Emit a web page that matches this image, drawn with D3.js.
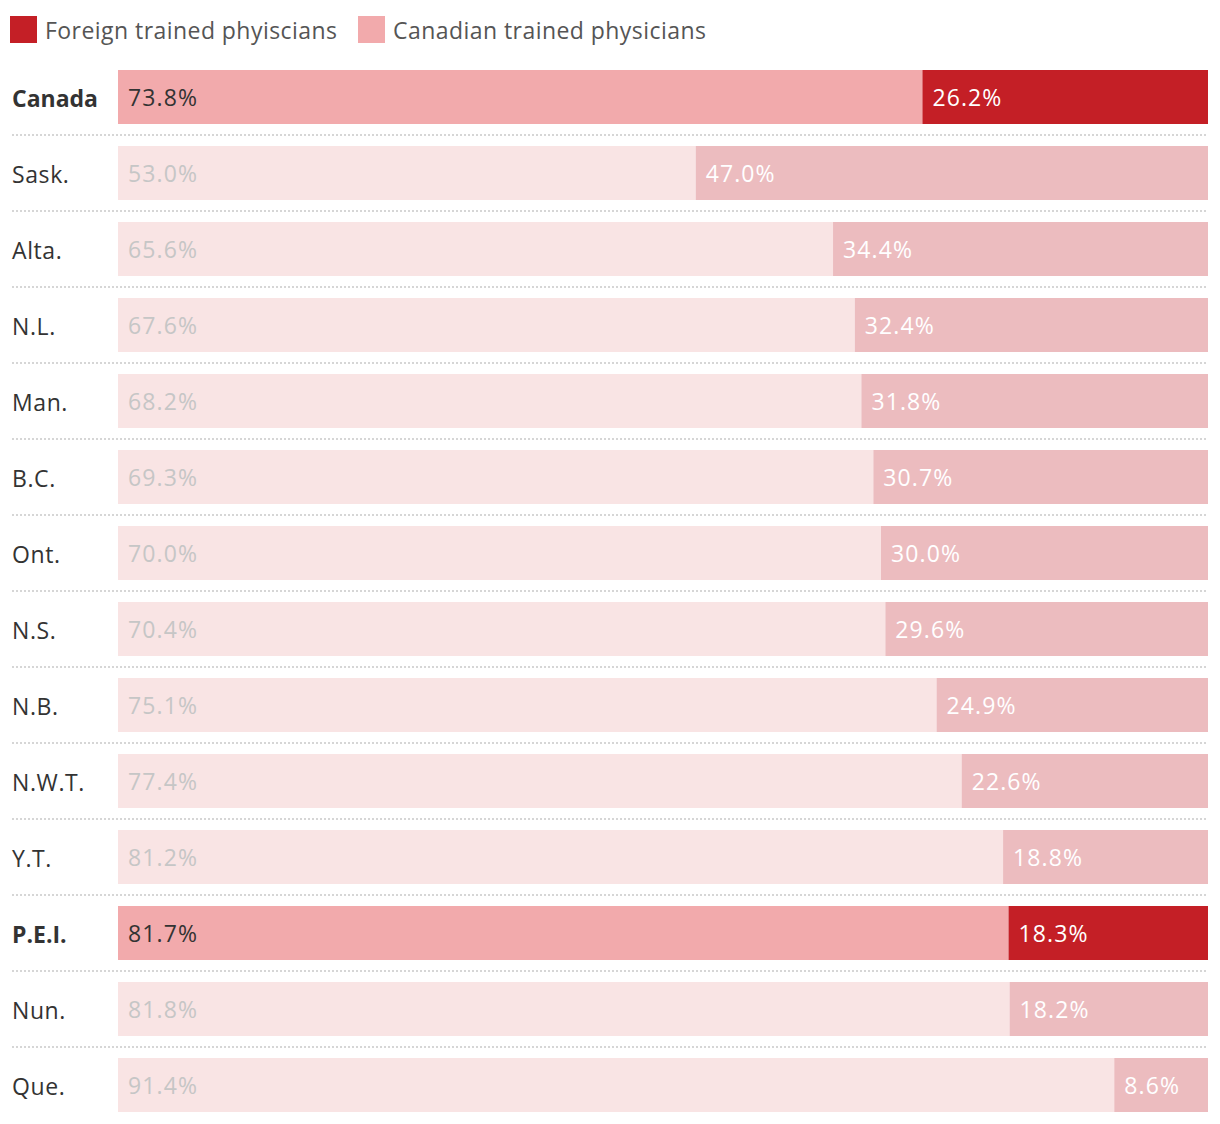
<!DOCTYPE html>
<html><head><meta charset="utf-8">
<script src="https://cdn.jsdelivr.net/npm/d3@7"></script>
<style>body{margin:0;background:#fff;font-family:"Open Sans",sans-serif;}</style>
</head><body><svg id="c" width="1220" height="1124"></svg>
<script>
const regions = ["Canada","Sask.","Alta.","N.L.","Man.","B.C.","Ont.","N.S.","N.B.","N.W.T.","Y.T.","P.E.I.","Nun.","Que."];
const canadianTrained = [73.8,53.0,65.6,67.6,68.2,69.3,70.0,70.4,75.1,77.4,81.2,81.7,81.8,91.4];
const foreignTrained = [26.2,47.0,34.4,32.4,31.8,30.7,30.0,29.6,24.9,22.6,18.8,18.3,18.2,8.6];
const highlighted = ["Canada","P.E.I."];
const legendLabels = ["Foreign trained phyiscians","Canadian trained physicians"];

const FS = 23;
const svg = d3.select("#c");
const x = d3.scaleLinear().domain([0,100]).range([118,1208]);
const y = d3.scaleBand().domain(regions).range([70,1112]).paddingInner(22/76).paddingOuter(0).align(0);
const bw = y.bandwidth();

const col = { fHi:"#c41f26", cHi:"#f2aaac", fLo:"#ecbcbf", cLo:"#f9e4e4" };

// legend
const legCols = [col.fHi, col.cHi];
const legX = [10, 358];
legendLabels.forEach((t,i)=>{
  svg.append("rect").attr("x",legX[i]).attr("y",16).attr("width",27).attr("height",27).attr("fill",legCols[i]);
  svg.append("text").attr("x",legX[i]+35).attr("y",30).attr("dominant-baseline","central")
    .attr("font-size",FS).attr("letter-spacing",0.45).attr("fill","#555").text(t);
});

const data = regions.map((r,i)=>({r, c:canadianTrained[i], f:foreignTrained[i], hi:highlighted.includes(r)}));

const g = svg.append("g");
data.forEach((d,i)=>{
  const y0 = y(d.r);
  g.append("rect").attr("x",x(0)).attr("y",y0).attr("width",x(d.c)-x(0)).attr("height",bw)
    .attr("fill", d.hi?col.cHi:col.cLo);
  g.append("rect").attr("x",x(d.c)).attr("y",y0).attr("width",x(100)-x(d.c)).attr("height",bw)
    .attr("fill", d.hi?col.fHi:col.fLo);
  g.append("text").attr("x",x(0)+10).attr("y",y0+bw/2).attr("dominant-baseline","central")
    .attr("font-size",FS).attr("letter-spacing",1.1).attr("fill", d.hi?"#333":"#c6c6c6").text(d.c.toFixed(1)+"%");
  g.append("text").attr("x",x(d.c)+10).attr("y",y0+bw/2).attr("dominant-baseline","central")
    .attr("font-size",FS).attr("letter-spacing",1.1).attr("fill","#fff").text(d.f.toFixed(1)+"%");
  g.append("text").attr("x",12).attr("y",y0+bw/2+1).attr("dominant-baseline","central")
    .attr("font-size",FS).attr("letter-spacing",d.hi?0:0.6).attr("font-weight",d.hi?"bold":"normal").attr("fill","#333").text(d.r);
  if(i<regions.length-1){
    const ly = y0+bw+11;
    g.append("line").attr("x1",12).attr("x2",1208).attr("y1",ly).attr("y2",ly)
      .attr("stroke","#d6d6d6").attr("stroke-width",2).attr("stroke-dasharray","2,2");
  }
});
</script></body></html>
